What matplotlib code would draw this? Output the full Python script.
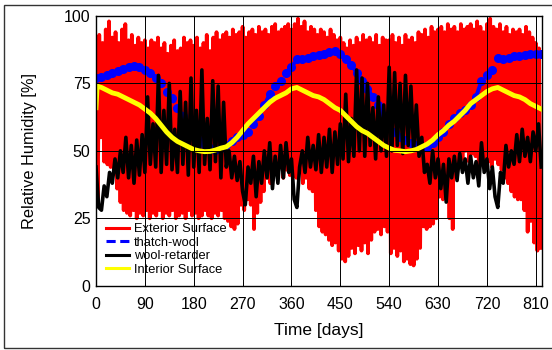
import numpy as np
import matplotlib
matplotlib.use('Agg')
import matplotlib.pyplot as plt
from matplotlib.lines import Line2D
from matplotlib.patches import Rectangle

plt.rcParams['font.family'] = ['Liberation Sans', 'DejaVu Sans']

# ---------------- data ----------------
# Exterior surface: local maxima (every 6 days from day 0) and minima (every 6 days from day 3)
ext_peak_days = np.arange(0, 817, 6)
ext_peaks = [
    87, 93, 90, 95, 98, 92, 94, 90, 95, 97,
    91, 93, 89, 92, 90, 91, 88, 91, 90, 92,
    88, 90, 86, 89, 91, 87, 88, 92, 90, 91,
    89, 92, 88, 90, 93, 87, 92, 94, 91, 93,
    94, 92, 95, 93, 94, 96, 92, 94, 95, 93,
    96, 94, 95, 93, 96, 97, 94, 95, 96, 97,
    95, 97, 99, 96, 98, 94, 96, 95, 93, 95,
    94, 92, 95, 93, 91, 92, 90, 88, 91, 89,
    92, 90, 93, 91, 92, 90, 93, 89, 92, 91,
    91, 93, 90, 92, 89, 93, 91, 92, 90, 94,
    93, 95, 92, 96, 94, 95, 96, 94, 97, 95,
    96, 94, 97, 95, 96, 97, 95, 98, 96, 94,
    97, 99, 96, 95, 97, 94, 96, 93, 95, 94,
    95, 93, 96, 94, 92, 90, 88,
]
ext_trough_days = np.arange(3, 820, 6)
ext_troughs = [
    30, 55, 46, 45, 44, 43, 36, 31, 28, 27,
    26, 28, 25, 27, 26, 28, 25, 27, 26, 28,
    25, 27, 26, 28, 25, 26, 27, 25, 28, 26,
    27, 25, 26, 28, 26, 25, 27, 26, 28, 25,
    24, 22, 21, 23, 30, 28, 32, 30, 21, 27,
    31, 35, 40, 38, 44, 42, 45, 40, 43, 41,
    44, 40, 42, 38, 40, 36, 35, 28, 22, 20,
    19, 17, 15, 16, 13, 10, 9, 11, 14, 12,
    15, 13, 16, 12, 17, 20, 21, 19, 22, 20,
    12, 14, 11, 13, 9, 10, 8, 7.5, 10, 14,
    22, 21, 22, 23, 25, 33, 32, 34, 25, 21,
    45, 48, 47, 50, 46, 49, 48, 45, 47, 44,
    46, 44, 47, 45, 43, 40, 38, 35, 33, 32,
    32, 28, 20, 24, 16, 13, 14,
]

# thatch-wool (every 10 days)
tw_days = np.arange(0, 821, 10)
thatch_wool = [
    77, 77.5, 78, 79, 79.5, 80.5, 81, 81.5, 81, 80,
    79, 77, 75, 72, 69.5, 66, 63, 60, 57, 54,
    52, 51, 50.5, 51, 52, 53.5, 55, 56, 57, 60,
    63, 67, 71, 74, 76, 79, 81, 84, 84, 84.5,
    85, 85.5, 86, 86.5, 87, 86, 84, 82, 79, 76,
    73, 70, 67, 63, 60, 57, 55, 54, 53, 52,
    51, 51.5, 53, 55, 57, 60, 62, 64, 65, 67,
    70, 76, 78, 80, 84.5, 84, 84.5, 85, 85, 85.5,
    86, 86, 86,
]

# wool-retarder (every 5 days)
wr_days = np.arange(0, 821, 5)
wool_retarder = [
    44, 29, 28, 37, 33, 42, 38, 47, 40, 50,
    42, 55, 40, 52, 38, 54, 41, 56, 42, 70,
    45, 60, 44, 78, 42, 65, 45, 75, 43, 58,
    42, 72, 45, 68, 41, 77, 44, 65, 42, 80,
    45, 62, 43, 76, 46, 74, 40, 68, 44, 50,
    40, 48, 39, 46, 35, 30, 44, 38, 48, 33,
    46, 38, 50, 40, 53, 36, 48, 38, 52, 40,
    53, 42, 47, 32, 29, 44, 50, 42, 55, 44,
    52, 43, 56, 42, 55, 44, 58, 42, 57, 45,
    60, 47, 71, 46, 62, 48, 80, 50, 77, 48,
    75, 52, 66, 47, 70, 50, 67, 48, 81, 50,
    79, 52, 75, 49, 78, 52, 74, 50, 67, 48,
    55, 42, 45, 38, 50, 40, 47, 36, 45, 31,
    47, 40, 48, 39, 49, 42, 47, 38, 48, 40,
    46, 37, 53, 42, 47, 36, 44, 33, 29, 42,
    38, 52, 44, 50, 45, 56, 46, 58, 48, 55,
    46, 57, 50, 60, 44,
]

# interior surface
int_days = [0, 2] + list(range(10, 821, 10))
interior = [
    66, 74,
    73.5, 72.5, 71.5, 71, 70, 69, 68, 67, 65.5,
    64, 62, 59.5, 57, 55, 53.5, 52.5, 51.5, 50.5, 50,
    49.7, 49.8, 50.3, 51, 51.5, 53, 55, 57.5, 60, 62,
    64, 66, 68, 69.5, 70.5, 71.5, 73, 73.5, 72.5, 71.5,
    70.5, 70, 69, 67.5, 66, 65, 63, 61, 59, 57.5,
    56.5, 55, 53.5, 52, 51, 50.2, 50, 49.7, 50, 50.5,
    51.5, 52.5, 54, 56, 57.5, 59.5, 61, 63, 65, 67.5,
    69, 70.5, 72, 73, 73.5, 72.5, 71.5, 70.5, 70, 69,
    67.5, 66.5, 65.5,
]

labels = ['Exterior Surface', 'thatch-wool', 'wool-retarder', 'Interior Surface']
x_ticks = list(range(0, 811, 90))
y_ticks = [0, 25, 50, 75, 100]

# ---------------- figure ----------------
fig = plt.figure(figsize=(5.52, 3.5), dpi=100)
ax = fig.add_axes([96 / 552, 1 - 285.7 / 350, (542.3 - 96) / 552, (285.7 - 16) / 350])

# interleave exterior peaks and troughs
ext_x = np.column_stack([ext_peak_days, ext_trough_days]).ravel()
ext_y = np.column_stack([ext_peaks, ext_troughs]).ravel()

ax.plot(ext_x, ext_y, color='#ff0000', lw=2.7, zorder=2)
ax.plot(tw_days, thatch_wool, color='#0000ff', lw=2.8, ls='--', marker='o',
        ms=5.5, mec='#0000ff', mfc='#0000ff', zorder=2.1)
ax.plot(wr_days, wool_retarder, color='black', lw=2.6, zorder=2.2)
ax.plot(int_days, interior, color='#ffff00', lw=3.5, zorder=2.3)

ax.set_xlim(0, 822)
ax.set_ylim(0, 100)
ax.set_xticks(x_ticks)
ax.set_yticks(y_ticks)
ax.grid(True, color='black', lw=0.7)
ax.set_axisbelow(False)
ax.tick_params(direction='in', length=3, width=0.7, top=True, right=True,
               labelsize=11.5, pad=4)
ax.tick_params(axis='x', pad=8)
for s in ax.spines.values():
    s.set_linewidth(1.0)

ax.set_xlabel('Time [days]', fontsize=12.5, labelpad=8)
ax.set_ylabel('Relative Humidity [%]', fontsize=11.8, labelpad=19)

handles = [
    Line2D([], [], color='#ff0000', lw=2.2),
    Line2D([], [], color='#0000ff', lw=2.2, ls=(0, (3, 1.5))),
    Line2D([], [], color='black', lw=2.2),
    Line2D([], [], color='#ffff00', lw=2.2),
]
ax.legend(handles, labels, loc='upper left', bbox_to_anchor=(0.022, 0.232),
          frameon=False, fontsize=9.3, handlelength=1.8, handletextpad=0.4,
          labelspacing=0.12, borderpad=0, borderaxespad=0)

fig.add_artist(Rectangle((3.5 / 552, 1 - 348 / 350), 1.1, (348 - 5) / 350,
                         transform=fig.transFigure, fill=False,
                         edgecolor='#333333', lw=1.0))

fig.savefig('out.png', dpi=100)
